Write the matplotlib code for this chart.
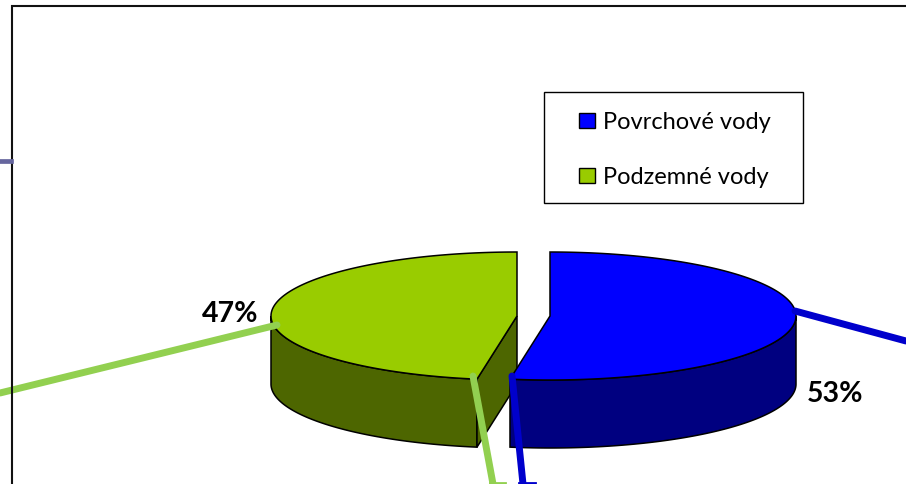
import numpy as np
import matplotlib
matplotlib.use("Agg")
import matplotlib.pyplot as plt
from matplotlib.patches import Polygon, Rectangle

categories = ["Povrchové vody", "Podzemné vody"]
shares = [52.6, 47.4]
top_colors = ["#0000FF", "#99CC00"]
side_colors = ["#000080", "#4D6600"]
leader_colors = ["#0000CC", "#92D050"]

plt.rcParams["font.family"] = ["Lato", "DejaVu Sans"]

W, H = 906, 484
A, B, DEPTH = 246, 64, 68
CY = 316
CENTERS = [550, 517]


def ring(cx, t0, t1, dy=0):
    # clockwise angle from 12 o'clock, squashed to an ellipse
    t = np.radians(np.linspace(t0, t1, 200))
    return np.column_stack([cx + A * np.sin(t), CY + dy - B * np.cos(t)])


fig = plt.figure(figsize=(W / 100, H / 100), dpi=100)
ax = fig.add_axes([0, 0, 1, 1])
ax.set_xlim(0, W)
ax.set_ylim(H, 0)
ax.axis("off")

split = shares[0] / sum(shares) * 360
spans = [(0, split), (split, 360)]

# green slice first, blue overlaps it
for i in [1, 0]:
    cx = CENTERS[i]
    t0, t1 = spans[i]
    # outer wall, only the part that faces the viewer
    w0, w1 = max(t0, 90), min(t1, 270)
    upper = ring(cx, w0, w1)
    lower = ring(cx, w0, w1, DEPTH)
    ax.add_patch(Polygon(np.vstack([upper, lower[::-1]]), fc=side_colors[i], ec="black", lw=1.1))
    if i == 1:
        # cut face of the green slice
        edge = ring(cx, t0, t0)[0]
        face = [(cx, CY), edge, (edge[0], edge[1] + DEPTH), (cx, CY + DEPTH)]
        ax.add_patch(Polygon(face, fc=side_colors[i], ec="black", lw=1.1))
    top = np.vstack([[(cx, CY)], ring(cx, t0, t1)])
    ax.add_patch(Polygon(top, fc=top_colors[i], ec="black", lw=1.1))

# leader lines run off the picture
ax.plot([795, 906], [311, 341], color=leader_colors[0], lw=5, solid_capstyle="round")
ax.plot([512, 523], [376, 484], color=leader_colors[0], lw=5, solid_capstyle="round")
ax.plot([519, 535], [482.5, 482.5], color=leader_colors[0], lw=2)
ax.plot([277, 0], [325, 393], color=leader_colors[1], lw=5, solid_capstyle="round")
ax.plot([473, 493], [376, 484], color=leader_colors[1], lw=5, solid_capstyle="round")
ax.plot([490, 505], [482.5, 482.5], color=leader_colors[1], lw=2)

ax.text(230, 314, f"{shares[1]:.0f}%", fontsize=20.5, fontweight="bold", ha="center", va="center")
ax.text(835, 394, f"{shares[0]:.0f}%", fontsize=20.5, fontweight="bold", ha="center", va="center")

# outer frame and the stub left of it
ax.plot([12, 12, W], [H, 6, 6], color="#111111", lw=1.5, solid_joinstyle="miter")
ax.plot([0, 11], [160.5, 160.5], color="#66669E", lw=3.4)

# legend box
ax.add_patch(Rectangle((544, 92), 259, 111, fc="white", ec="black", lw=1))
for i, (name, y) in enumerate(zip(categories, [120.5, 175.5])):
    ax.add_patch(Rectangle((579, y - 7.5), 16, 15, fc=top_colors[i], ec="black", lw=1))
    ax.text(603, y + 2, name, fontsize=17, ha="left", va="center", color="black")

fig.savefig("out.png", dpi=100)
